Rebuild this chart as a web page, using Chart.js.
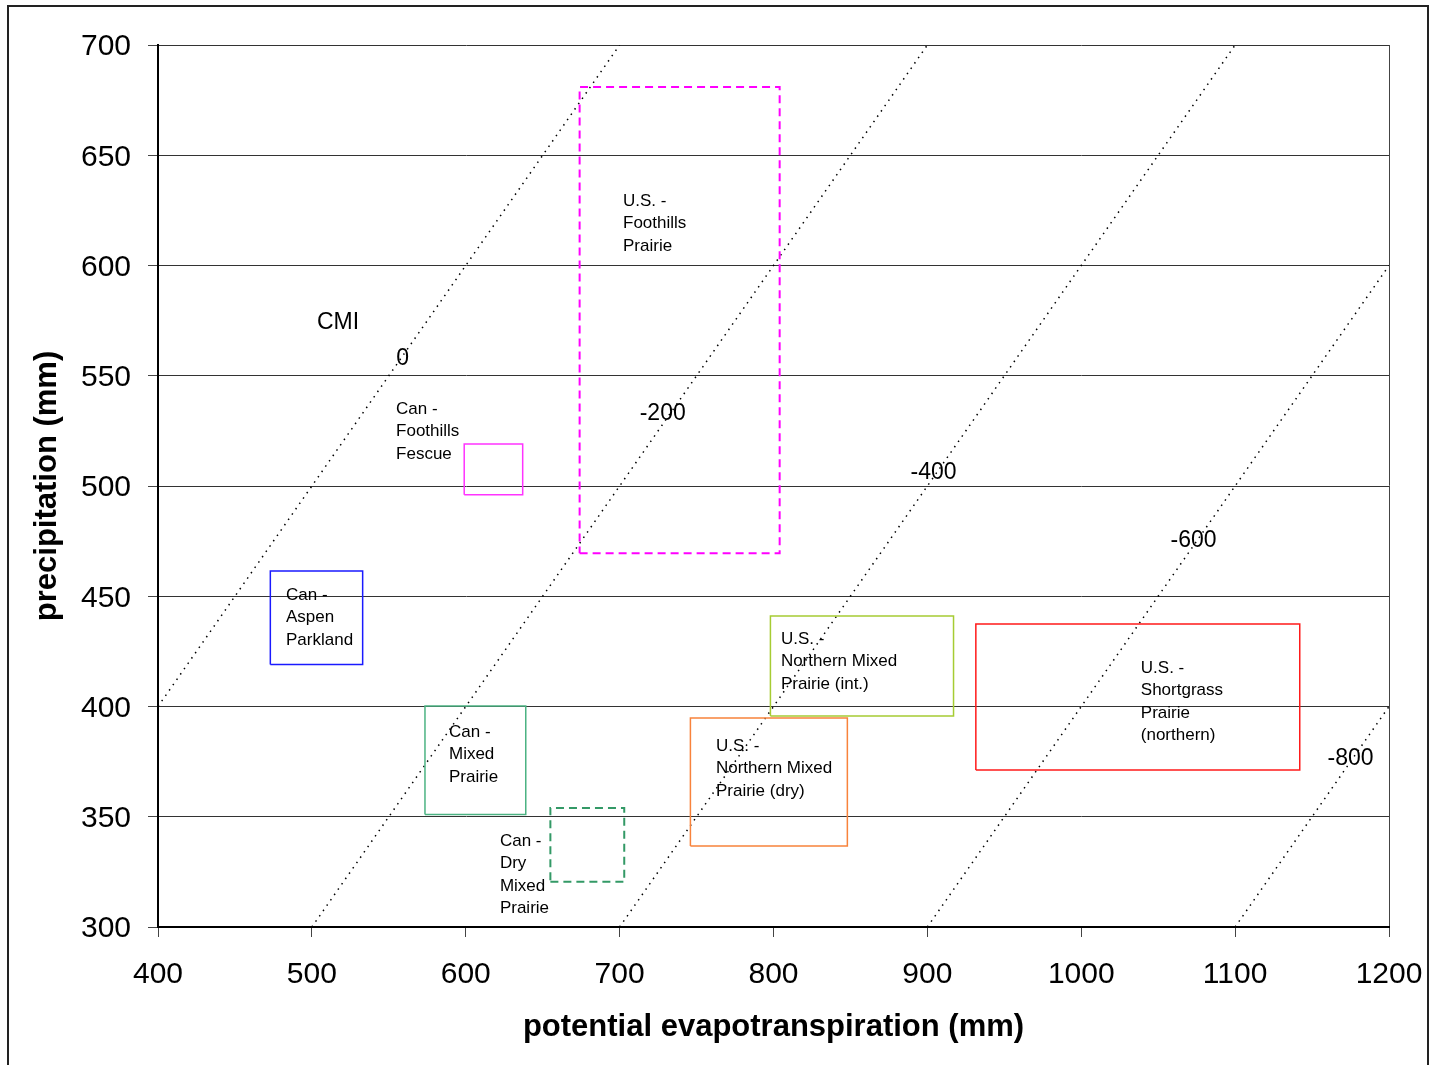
<!DOCTYPE html>
<html>
<head>
<meta charset="utf-8">
<script src="https://cdn.jsdelivr.net/npm/chart.js@4.4.1/dist/chart.umd.min.js"></script>
<style>
  html, body { margin: 0; padding: 0; background: #fff; }
  #wrap { position: relative; width: 1431px; height: 1065px; }
</style>
</head>
<body>
<div id="wrap"><canvas id="c"></canvas></div>
<script>
// ---- data ----
const xTicks = [400, 500, 600, 700, 800, 900, 1000, 1100, 1200];
const yTicks = [300, 350, 400, 450, 500, 550, 600, 650, 700];

// CMI isolines (P - PET = CMI), end points in data units
const cmiValues = [0, -200, -400, -600, -800];
const cmiStartPET = [400, 500, 700, 900, 1100];
const cmiStartP   = [400, 300, 300, 300, 300];
const cmiEndPET   = [700, 900, 1100, 1200, 1200];
const cmiEndP     = [700, 700, 700, 600, 400];
const cmiLabelPET = [559, 728, 904, 1073, 1175];
const cmiLabelP   = [557.6, 532.7, 505.9, 475.1, 376.2];

// Grassland regions (PET range, P range)
const regionNames = [
  ["Can -", "Aspen", "Parkland"],
  ["Can -", "Foothills", "Fescue"],
  ["U.S. -", "Foothills", "Prairie"],
  ["Can -", "Mixed", "Prairie"],
  ["Can -", "Dry", "Mixed", "Prairie"],
  ["U.S. -", "Northern Mixed", "Prairie (int.)"],
  ["U.S. -", "Northern Mixed", "Prairie (dry)"],
  ["U.S. -", "Shortgrass", "Prairie", "(northern)"]
];
const petMin = [473, 599, 674, 573.5, 655, 798, 746, 931.5];
const petMax = [533, 637, 804, 639, 703, 917, 848, 1142];
const pMin   = [419, 496, 469.5, 351, 320.5, 395.7, 336.7, 371.2];
const pMax   = [461.5, 519, 681, 400.2, 354, 441, 394.8, 437.4];
const regionLabelPET = [483.2, 554.7, 702.2, 589.1, 622.2, 804.8, 762.6, 1038.7];
const regionLabelP   = [450.5, 534.9, 629.2, 388.4, 339.0, 430.6, 382.0, 417.4];
const cmiTitle = { text: "CMI", pet: 517, p: 573.9 };

// ---- styles ----
const regionColors = ['#1a1aff', '#ff33ff', '#ff00ff', '#4cb383', '#339966', '#a6cc33', '#f8833b', '#ff1a1a'];
const regionDashed = [false, false, true, false, true, false, false, false];
const FONT = "'Liberation Sans', Arial, sans-serif";

const datasets = [];
regionNames.forEach((n, i) => {
  datasets.push({
    label: n.join(' '),
    data: [
      {x: petMin[i], y: pMin[i]}, {x: petMax[i], y: pMin[i]},
      {x: petMax[i], y: pMax[i]}, {x: petMin[i], y: pMax[i]},
      {x: petMin[i], y: pMin[i]}
    ],
    showLine: true,
    borderColor: regionColors[i],
    borderWidth: regionDashed[i] ? 2 : 1.5,
    borderDash: regionDashed[i] ? [8, 5] : [],
    pointRadius: 0,
    fill: false,
    tension: 0
  });
});
cmiValues.forEach((v, i) => {
  datasets.push({
    label: 'CMI ' + v,
    data: [{x: cmiStartPET[i], y: cmiStartP[i]}, {x: cmiEndPET[i], y: cmiEndP[i]}],
    showLine: true,
    borderColor: '#000',
    borderWidth: 1.5,
    borderDash: [1.5, 5],
    pointRadius: 0,
    fill: false
  });
});

const outerBorder = {
  id: 'outerBorder',
  beforeDraw(chart) {
    const ctx = chart.ctx;
    ctx.save();
    ctx.fillStyle = '#fff';
    ctx.fillRect(0, 0, chart.width, chart.height);
    ctx.strokeStyle = '#222';
    ctx.lineWidth = 2;
    ctx.strokeRect(8, 6, 1420, 1100);
    ctx.restore();
  }
};

const textLabels = {
  id: 'textLabels',
  afterDatasetsDraw(chart) {
    const ctx = chart.ctx;
    const xs = chart.scales.x, ys = chart.scales.y;
    ctx.save();
    ctx.fillStyle = '#000';
    ctx.font = '17px ' + FONT;
    ctx.textAlign = 'left';
    ctx.textBaseline = 'middle';
    regionNames.forEach((lines, i) => {
      const x = xs.getPixelForValue(regionLabelPET[i]);
      const y = ys.getPixelForValue(regionLabelP[i]);
      lines.forEach((t, k) => ctx.fillText(t, x, y + k * 22.5));
    });
    ctx.font = '23px ' + FONT;
    ctx.textAlign = 'center';
    ctx.fillText(cmiTitle.text, xs.getPixelForValue(cmiTitle.pet), ys.getPixelForValue(cmiTitle.p));
    cmiValues.forEach((v, i) => {
      ctx.fillText(String(v), xs.getPixelForValue(cmiLabelPET[i]), ys.getPixelForValue(cmiLabelP[i]));
    });
    ctx.restore();
  }
};

new Chart(document.getElementById('c'), {
  type: 'scatter',
  data: { datasets },
  options: {
    responsive: true,
    maintainAspectRatio: false,
    animation: false,
    devicePixelRatio: 1,
    layout: { padding: { top: 45, right: 42, bottom: 0, left: 0 } },
    plugins: { legend: { display: false }, tooltip: { enabled: false } },
    scales: {
      x: {
        type: 'linear',
        min: 400, max: 1200,
        afterBuildTicks(s) { s.ticks = xTicks.map(v => ({value: v})); },
        afterFit(s) { s.height = 138; s.paddingLeft = 0; s.paddingRight = 0; },
        ticks: { color: '#000', font: { family: FONT, size: 30 }, padding: 20, maxRotation: 0,
                 callback: v => String(v) },
        grid: {
          color: c => (c.tick && c.tick.value === 1200) ? '#444' : 'rgba(0,0,0,0)',
          tickColor: '#444',
          tickLength: 10,
          lineWidth: 1
        },
        border: { color: '#000', width: 2 },
        title: {
          display: true,
          text: 'potential evapotranspiration (mm)',
          color: '#000',
          font: { family: FONT, size: 31, weight: 'bold' },
          padding: { top: 0, bottom: 19 }
        }
      },
      y: {
        type: 'linear',
        min: 300, max: 700,
        afterBuildTicks(s) { s.ticks = yTicks.map(v => ({value: v})); },
        afterFit(s) { s.width = 158; s.paddingTop = 0; s.paddingBottom = 0; },
        ticks: { color: '#000', font: { family: FONT, size: 30 }, padding: 17, labelOffset: 2,
                 callback: v => String(v) },
        grid: { color: '#333', tickColor: '#444', tickLength: 10, lineWidth: 1 },
        border: { color: '#000', width: 2 },
        title: {
          display: true,
          text: 'precipitation (mm)',
          color: '#000',
          font: { family: FONT, size: 31, weight: 'bold' },
          padding: { top: 29, bottom: 0 }
        }
      }
    }
  },
  plugins: [outerBorder, textLabels]
});
</script>
</body>
</html>
